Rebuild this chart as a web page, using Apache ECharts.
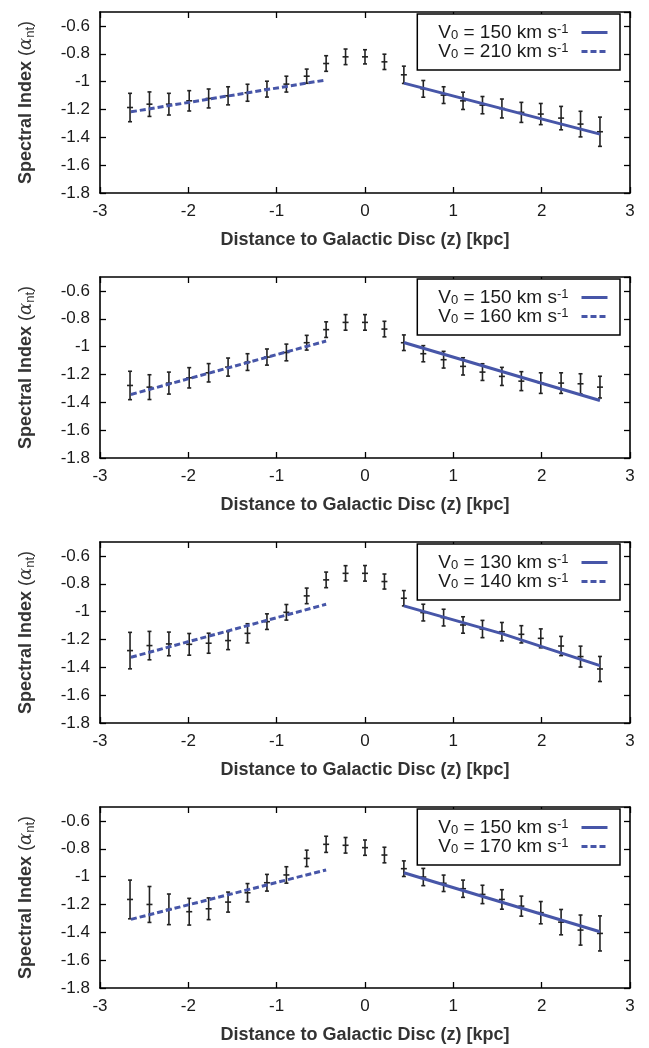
<!DOCTYPE html>
<html>
<head>
<meta charset="utf-8">
<script src="https://cdn.jsdelivr.net/npm/echarts@6/dist/echarts.min.js"></script>
<style>
html,body{margin:0;padding:0;background:#fff;}
#chart{width:649px;height:1048px;}
</style>
</head>
<body>
<div id="chart"></div>
<script>
// ---- data ----
const zValues = [-2.66,-2.44,-2.22,-1.99,-1.77,-1.55,-1.33,-1.11,-0.89,-0.66,-0.44,-0.22,0,0.22,0.44,0.66,0.89,1.11,1.33,1.55,1.77,1.99,2.22,2.44,2.66];

const alpha1 = [-1.186,-1.162,-1.162,-1.138,-1.121,-1.102,-1.080,-1.054,-1.018,-0.961,-0.870,-0.822,-0.822,-0.858,-0.951,-1.052,-1.097,-1.138,-1.169,-1.193,-1.221,-1.233,-1.262,-1.305,-1.360];
const err1   = [0.102,0.088,0.078,0.073,0.068,0.065,0.061,0.057,0.057,0.051,0.056,0.056,0.051,0.055,0.062,0.060,0.060,0.062,0.062,0.068,0.072,0.076,0.084,0.092,0.105];

const alpha2 = [-1.279,-1.291,-1.262,-1.224,-1.188,-1.147,-1.111,-1.075,-1.042,-0.972,-0.878,-0.826,-0.826,-0.874,-0.972,-1.051,-1.094,-1.142,-1.183,-1.214,-1.248,-1.262,-1.262,-1.267,-1.291];
const err2   = [0.102,0.089,0.079,0.073,0.066,0.065,0.060,0.058,0.060,0.053,0.056,0.056,0.056,0.056,0.056,0.058,0.060,0.062,0.060,0.065,0.068,0.074,0.074,0.072,0.078];

const alpha3 = [-1.280,-1.244,-1.232,-1.235,-1.227,-1.208,-1.156,-1.072,-1.005,-0.887,-0.772,-0.725,-0.725,-0.784,-0.904,-1.007,-1.043,-1.096,-1.125,-1.144,-1.163,-1.192,-1.247,-1.323,-1.412];
const err3   = [0.131,0.102,0.085,0.078,0.072,0.065,0.069,0.056,0.056,0.056,0.056,0.055,0.056,0.054,0.055,0.060,0.060,0.059,0.062,0.066,0.062,0.068,0.069,0.075,0.090];

const alpha4 = [-1.164,-1.200,-1.235,-1.252,-1.231,-1.183,-1.116,-1.044,-0.988,-0.869,-0.768,-0.775,-0.792,-0.845,-0.943,-1.003,-1.048,-1.087,-1.128,-1.164,-1.212,-1.259,-1.327,-1.384,-1.408];
const err4   = [0.139,0.129,0.110,0.096,0.078,0.072,0.066,0.060,0.059,0.059,0.058,0.056,0.055,0.056,0.056,0.062,0.059,0.062,0.066,0.070,0.072,0.080,0.091,0.108,0.126];

// model lines (z, alpha)
const fitDashed1 = [[-2.65,-1.217],[-0.44,-0.988]];
const fitSolid1  = [[0.44,-1.011],[2.66,-1.377]];
const fitDashed2 = [[-2.65,-1.344],[-0.44,-0.960]];
const fitSolid2  = [[0.44,-0.970],[2.66,-1.387]];
const fitDashed3 = [[-2.65,-1.328],[-0.44,-0.947]];
const fitSolid3  = [[0.44,-0.959],[1.55,-1.158],[2.66,-1.388]];
const fitDashed4 = [[-2.65,-1.307],[-0.44,-0.952]];
const fitSolid4  = [[0.44,-0.972],[2.66,-1.396]];

const v0Solid  = [150,150,130,150];
const v0Dashed = [210,160,140,170];

const xTicks = [-3,-2,-1,0,1,2,3];
const yTicks = [-1.8,-1.6,-1.4,-1.2,-1,-0.8,-0.6];

const alphas = [alpha1,alpha2,alpha3,alpha4];
const errs = [err1,err2,err3,err4];
const dashedFits = [fitDashed1,fitDashed2,fitDashed3,fitDashed4];
const solidFits = [fitSolid1,fitSolid2,fitSolid3,fitSolid4];

// ---- layout ----
const tops = [12, 277, 542, 807];
const plotH = 181;
const FONT = '"Liberation Sans", Arial, Helvetica, sans-serif';
const BLUE = '#4756a8';
const INK = '#1a1a1a';
const TICK_FS = 17, NAME_FS = 18, LEG_FS = 19;

const grids = [], xAxes = [], yAxes = [], series = [], legends = [];

function legendName(v){ return 'V0 = ' + v + ' km s-1'; }

for (let i = 0; i < 4; i++) {
  grids.push({left: 100, right: 19, top: tops[i], height: plotH, show: false});
  const axLine = {show: true, onZero: false, lineStyle: {color: '#000', width: 1.6}};
  const tick = {show: true, inside: true, length: 6, lineStyle: {color: '#000', width: 1.3}};
  xAxes.push({
    type: 'value', gridIndex: i, position: 'bottom', min: -3, max: 3, interval: 1,
    axisLine: axLine, axisTick: tick, splitLine: {show: false},
    axisLabel: {fontSize: TICK_FS, color: INK, fontFamily: FONT, margin: 10},
    name: 'Distance to Galactic Disc (z) [kpc]', nameLocation: 'middle', nameGap: 38,
    nameTextStyle: {fontSize: NAME_FS, fontWeight: 'bold', color: '#333', fontFamily: FONT}
  });
  xAxes.push({
    type: 'value', gridIndex: i, position: 'top', min: -3, max: 3, interval: 1,
    axisLine: axLine, axisTick: tick, splitLine: {show: false}, axisLabel: {show: false}
  });
  yAxes.push({
    type: 'value', gridIndex: i, position: 'left', min: -1.8, max: -0.5, interval: 0.2,
    axisLine: axLine, axisTick: tick, splitLine: {show: false},
    axisLabel: {fontSize: TICK_FS, color: INK, fontFamily: FONT, margin: 10, showMaxLabel: false,
      formatter: v => (Math.abs(v + 0.5) < 1e-6 ? '' : String(Math.round(v * 10) / 10))},
    name: '{b|Spectral Index }{r|(}{a|α}{s|nt}{r|)}', nameLocation: 'middle', nameGap: 63, nameRotate: 90,
    nameTextStyle: {fontFamily: FONT, color: '#333',
      rich: {
        b: {fontSize: NAME_FS, fontWeight: 'bold', color: '#333', fontFamily: FONT, lineHeight: 22, verticalAlign: 'middle'},
        r: {fontSize: NAME_FS, color: '#333', fontFamily: FONT, lineHeight: 22, verticalAlign: 'middle'},
        a: {fontSize: NAME_FS, fontStyle: 'italic', color: '#333', fontFamily: 'DejaVu Serif, serif', lineHeight: 22, verticalAlign: 'middle'},
        s: {fontSize: 13, color: '#333', fontFamily: FONT, lineHeight: 8, verticalAlign: 'bottom'}
      }}
  });
  yAxes.push({
    type: 'value', gridIndex: i, position: 'right', min: -1.8, max: -0.5, interval: 0.2,
    axisLine: axLine, axisTick: tick, splitLine: {show: false}, axisLabel: {show: false}
  });

  const pts = zValues.map((z, k) => [z, alphas[i][k], errs[i][k]]);
  series.push({
    type: 'custom', xAxisIndex: 2 * i, yAxisIndex: 2 * i, data: pts, encode: {x: 0, y: 1}, z: 2,
    renderItem: function (params, api) {
      const z = api.value(0), a = api.value(1), e = api.value(2);
      const c = api.coord([z, a]);
      const t = api.coord([z, a + e]);
      const b = api.coord([z, a - e]);
      const st = {stroke: '#222', lineWidth: 1.6};
      return {type: 'group', children: [
        {type: 'line', shape: {x1: c[0], y1: t[1], x2: c[0], y2: b[1]}, style: st},
        {type: 'line', shape: {x1: c[0] - 2, y1: t[1], x2: c[0] + 2, y2: t[1]}, style: st},
        {type: 'line', shape: {x1: c[0] - 2, y1: b[1], x2: c[0] + 2, y2: b[1]}, style: st},
        {type: 'line', shape: {x1: c[0] - 3, y1: c[1], x2: c[0] + 3, y2: c[1]}, style: st}
      ]};
    }
  });
  const nS = legendName(v0Solid[i]), nD = legendName(v0Dashed[i]);
  series.push({
    type: 'line', name: nS, xAxisIndex: 2 * i, yAxisIndex: 2 * i, data: solidFits[i],
    showSymbol: false, symbol: 'none', z: 3, silent: true,
    lineStyle: {color: BLUE, width: 3, type: 'solid'}, itemStyle: {color: BLUE}
  });
  series.push({
    type: 'line', name: nD, xAxisIndex: 2 * i, yAxisIndex: 2 * i, data: dashedFits[i],
    showSymbol: false, symbol: 'none', z: 3, silent: true,
    lineStyle: {color: BLUE, width: 3, type: [6, 3]}, itemStyle: {color: BLUE}
  });
  legends.push({
    data: [nS, nD], orient: 'vertical', align: 'right', right: 29, top: tops[i] + 2,
    itemWidth: 26, itemHeight: 12, itemGap: 0,
    padding: [9, 11, 9, 21], borderColor: '#000', borderWidth: 1.5, backgroundColor: '#fff',
    selectedMode: false,
    itemStyle: {opacity: 0},
    lineStyle: {width: 3},
    formatter: function (name) {
      const v = name.split(' ')[2];
      return '{n|V}{d|0}{n| = ' + v + ' km s}{u|-1}';
    },
    textStyle: {
      fontFamily: FONT, color: INK, padding: [0, 8, 0, 0],
      rich: {
        n: {fontSize: LEG_FS, fontFamily: FONT, color: INK, lineHeight: 19, verticalAlign: 'middle'},
        d: {fontSize: 13, fontFamily: FONT, color: INK, lineHeight: 3, verticalAlign: 'bottom'},
        u: {fontSize: 13, fontFamily: FONT, color: INK, lineHeight: 5, verticalAlign: 'top'}
      }
    }
  });
}

const chart = echarts.init(document.getElementById('chart'), null, {renderer: 'canvas'});
chart.setOption({
  animation: false,
  backgroundColor: '#fff',
  grid: grids, xAxis: xAxes, yAxis: yAxes, series: series, legend: legends
});
</script>
</body>
</html>
